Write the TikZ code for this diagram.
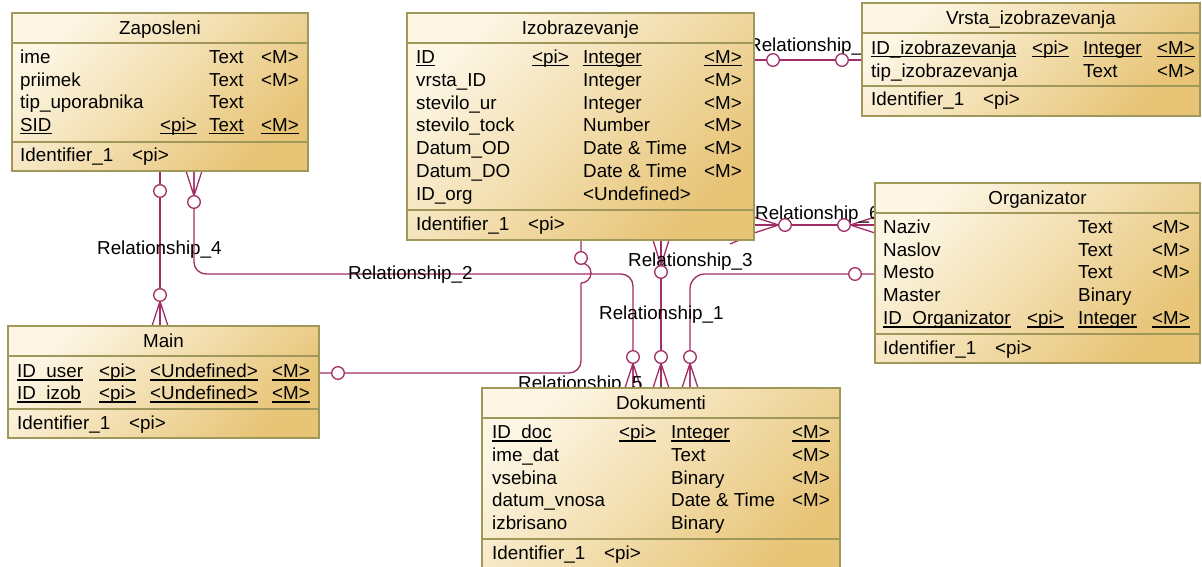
\documentclass[tikz,border=0pt]{standalone}
\usepackage{fontspec}
\setmainfont{Liberation Sans}
\usetikzlibrary{calc}
\pgfdeclarelayer{lines}
\pgfdeclarelayer{marks}
\pgfsetlayers{lines,marks,main}

\definecolor{boxlight}{RGB}{253,246,228}
\definecolor{boxdark}{RGB}{231,196,118}
\definecolor{boxline}{RGB}{160,152,90}
\definecolor{relc}{RGB}{160,45,100}

\newcommand\efont{\fontsize{18.8}{22}\selectfont}
% underline at a fixed depth, independent of descenders
\newcommand\ulin[1]{\setbox0\hbox{#1}\rlap{\rule[-3pt]{\wd0}{1.3pt}}\box0}

\tikzset{
  ebox/.style={draw=boxline, line width=1.2pt, top color=boxlight, bottom color=boxdark,
    shading angle=45, inner sep=0pt, outer sep=0pt},
  eline/.style={draw=boxline, line width=1.2pt},
  cell/.style={anchor=base west, inner sep=0pt, font=\efont},
  etitle/.style={anchor=base, inner sep=0pt, font=\efont},
  relline/.style={draw=relc, line width=1.3pt},
  opt/.style={circle, draw=relc, line width=1.3pt, fill=white, minimum size=12.6pt,
    inner sep=0pt, outer sep=0pt},
  rlabel/.style={anchor=base west, inner sep=0pt, font=\efont}
}

% entity box: name, x1, y1, x2, y2, header rule, key rule, title
\newcommand\entity[8]{%
  \node[ebox, minimum width={(#4-#2)*1pt}, minimum height={(#5-#3)*1pt}]
    (#1) at ({(#2+#4)/2},{(#3+#5)/2}) {};
  \draw[eline] (#1.west |- 0,#6) -- (#1.east |- 0,#6);
  \draw[eline] (#1.west |- 0,#7) -- (#1.east |- 0,#7);
  \node[etitle] (#1-title) at ({(#2+#4)/2},{#3+21.5}) {#8};
}
% attribute rows: prefix, four column x positions, list y/name/pi/type/mandatory
\newcommand\attrs[6]{%
  \foreach \yy/\na/\pp/\ty/\mm [count=\i] in {#6}{
    \node[cell] (#1-\i-n) at (#2,\yy+6.5) {\na};
    \node[cell] (#1-\i-p) at (#3,\yy+6.5) {\pp};
    \node[cell] (#1-\i-t) at (#4,\yy+6.5) {\ty};
    \node[cell] (#1-\i-m) at (#5,\yy+6.5) {\mm};
  }%
}
% identifier row: prefix, x, y
\newcommand\ident[3]{%
  \node[cell] (#1-id) at (#2,#3+6.5) {Identifier\_1};
  \node[cell] (#1-idpi) at (#2+112,#3+6.5) {<pi>};
}
% crow's feet: apex, centre of the foot, half spread
\newcommand\crowv[3]{\draw[relline] (#1) -- ($(#2)+(-#3,0)$) (#1) -- (#2) (#1) -- ($(#2)+(#3,0)$);}
\newcommand\crowh[3]{\draw[relline] (#1) -- ($(#2)+(0,-#3)$) (#1) -- (#2) (#1) -- ($(#2)+(0,#3)$);}

\begin{document}
\begin{tikzpicture}[x=1pt,y=-1pt]
\useasboundingbox (0,0) rectangle (1202,567);
\clip (0,0) rectangle (1202,567);

% ---------- entities ----------
\entity{zap}{12}{13}{308}{171}{43}{142}{Zaposleni}
\attrs{zap}{20}{160}{209}{261}{57/ime//Text/<M>, 80/priimek//Text/<M>,
  102/tip\_uporabnika//Text/, 125/\ulin{SID}/\ulin{<pi>}/\ulin{Text}/\ulin{<M>}}
\ident{zap}{20}{155}

\entity{izo}{407}{13}{754}{240}{43}{210}{Izobrazevanje}
\attrs{izo}{416}{532}{583}{704}{57/\ulin{ID}/\ulin{<pi>}/\ulin{Integer}/\ulin{<M>},
  80/vrsta\_ID//Integer/<M>, 103/stevilo\_ur//Integer/<M>,
  125/stevilo\_tock//Number/<M>, 148/Datum\_OD//Date \& Time/<M>,
  171/Datum\_DO//Date \& Time/<M>, 194/ID\_org//<Undefined>/}
\ident{izo}{416}{224}

\entity{vrs}{862}{3}{1200}{116}{33}{86}{Vrsta\_izobrazevanja}
\attrs{vrs}{871}{1032}{1083}{1157}{48/\ulin{ID\_izobrazevanja}/\ulin{<pi>}/\ulin{Integer}/\ulin{<M>},
  71/tip\_izobrazevanja//Text/<M>}
\ident{vrs}{871}{99}

\entity{org}{875}{183}{1200}{363}{213}{334}{Organizator}
\attrs{org}{883}{1027}{1078}{1152}{227/Naziv//Text/<M>, 250/Naslov//Text/<M>,
  272/Mesto//Text/<M>, 295/Master//Binary/,
  318/\ulin{ID\_Organizator}/\ulin{<pi>}/\ulin{Integer}/\ulin{<M>}}
\ident{org}{883}{348}

\entity{mai}{8}{326}{319}{438}{356}{409}{Main}
\attrs{mai}{17}{99}{150}{272}{371/\ulin{ID\_user}/\ulin{<pi>}/\ulin{<Undefined>}/\ulin{<M>},
  393/\ulin{ID\_izob}/\ulin{<pi>}/\ulin{<Undefined>}/\ulin{<M>}}
\ident{mai}{17}{423}

\entity{dok}{482}{388}{840}{578}{418}{539}{Dokumenti}
\attrs{dok}{492}{619}{671}{792}{432/\ulin{ID\_doc}/\ulin{<pi>}/\ulin{Integer}/\ulin{<M>},
  455/ime\_dat//Text/<M>, 478/vsebina//Binary/<M>,
  500/datum\_vnosa//Date \& Time/<M>, 523/izbrisano//Binary/}
\ident{dok}{492}{553}

% ---------- optionality circles ----------
\begin{pgfonlayer}{marks}
  \node[opt] (r4a) at (160,191) {};
  \node[opt] (r4b) at (160,295) {};
  \node[opt] (r2a) at (194,202) {};
  \node[opt] (r2b) at (633,357) {};
  \node[opt] (r5a) at (338,373) {};
  \node[opt] (r5b) at (581,258) {};
  \node[opt] (r3a) at (661,272) {};
  \node[opt] (r3b) at (661,357) {};
  \node[opt] (r1a) at (855,274) {};
  \node[opt] (r1b) at (690,357) {};
  \node[opt] (r6a) at (785,225) {};
  \node[opt] (r6b) at (844,225) {};
  \node[opt] (r7a) at (773,60) {};
  \node[opt] (r7b) at (842,60) {};
\end{pgfonlayer}

% ---------- relationships ----------
\begin{pgfonlayer}{lines}
  % Zaposleni -- Main
  \draw[relline] (160,0 |- zap.south) -- (160,0 |- mai.north);
  \crowv{r4b.south}{160,0 |- mai.north}{8}
  \node[rlabel] (l4) at (97,254) {Relationship\_4};

  % Zaposleni -- Dokumenti
  \draw[relline, rounded corners=12] (194,0 |- zap.south) |- (633,274) -- (633,0 |- dok.north);
  \crowv{r2a.north}{194,0 |- zap.south}{8}
  \crowv{r2b.south}{633,0 |- dok.north}{8}
  \node[rlabel] (l2) at (348,279) {Relationship\_2};

  % Main -- Izobrazevanje, hopping over the line above
  \draw[relline, rounded corners=12] (mai.east |- 0,373) -| (581,283);
  \draw[relline] (581,283) arc[start angle=90, end angle=-90, radius=10] -- (581,0 |- izo.south);
  \node[rlabel] (l5) at (518,389) {Relationship\_5};

  % Izobrazevanje -- Dokumenti
  \draw[relline] (661,0 |- izo.south) -- (661,0 |- dok.north);
  \crowv{r3a.north}{661,0 |- izo.south}{8}
  \crowv{r3b.south}{661,0 |- dok.north}{8}
  \node[rlabel] (l3) at (628,266) {Relationship\_3};

  % Organizator -- Dokumenti
  \draw[relline, rounded corners=15] (org.west |- 0,274) -| (690,0 |- dok.north);
  \crowv{r1b.south}{690,0 |- dok.north}{8}
  \node[rlabel] (l1) at (599,319) {Relationship\_1};

  % Izobrazevanje -- Organizator
  \draw[relline] (izo.east |- 0,225) -- (org.west |- 0,225);
  \crowh{r6a.west}{izo.east |- 0,225}{8}
  \crowh{r6b.east}{org.west |- 0,225}{8}
  \draw[relline] (730,244) -- (742,239);
  \node[rlabel] (l6) at (755,219) {Relationship\_6};

  % Izobrazevanje -- Vrsta_izobrazevanja
  \draw[relline] (izo.east |- 0,60) -- (vrs.west |- 0,60);
  \node[rlabel] (l7) at (748,52) {Relationship\_};
\end{pgfonlayer}
\end{tikzpicture}
\end{document}
